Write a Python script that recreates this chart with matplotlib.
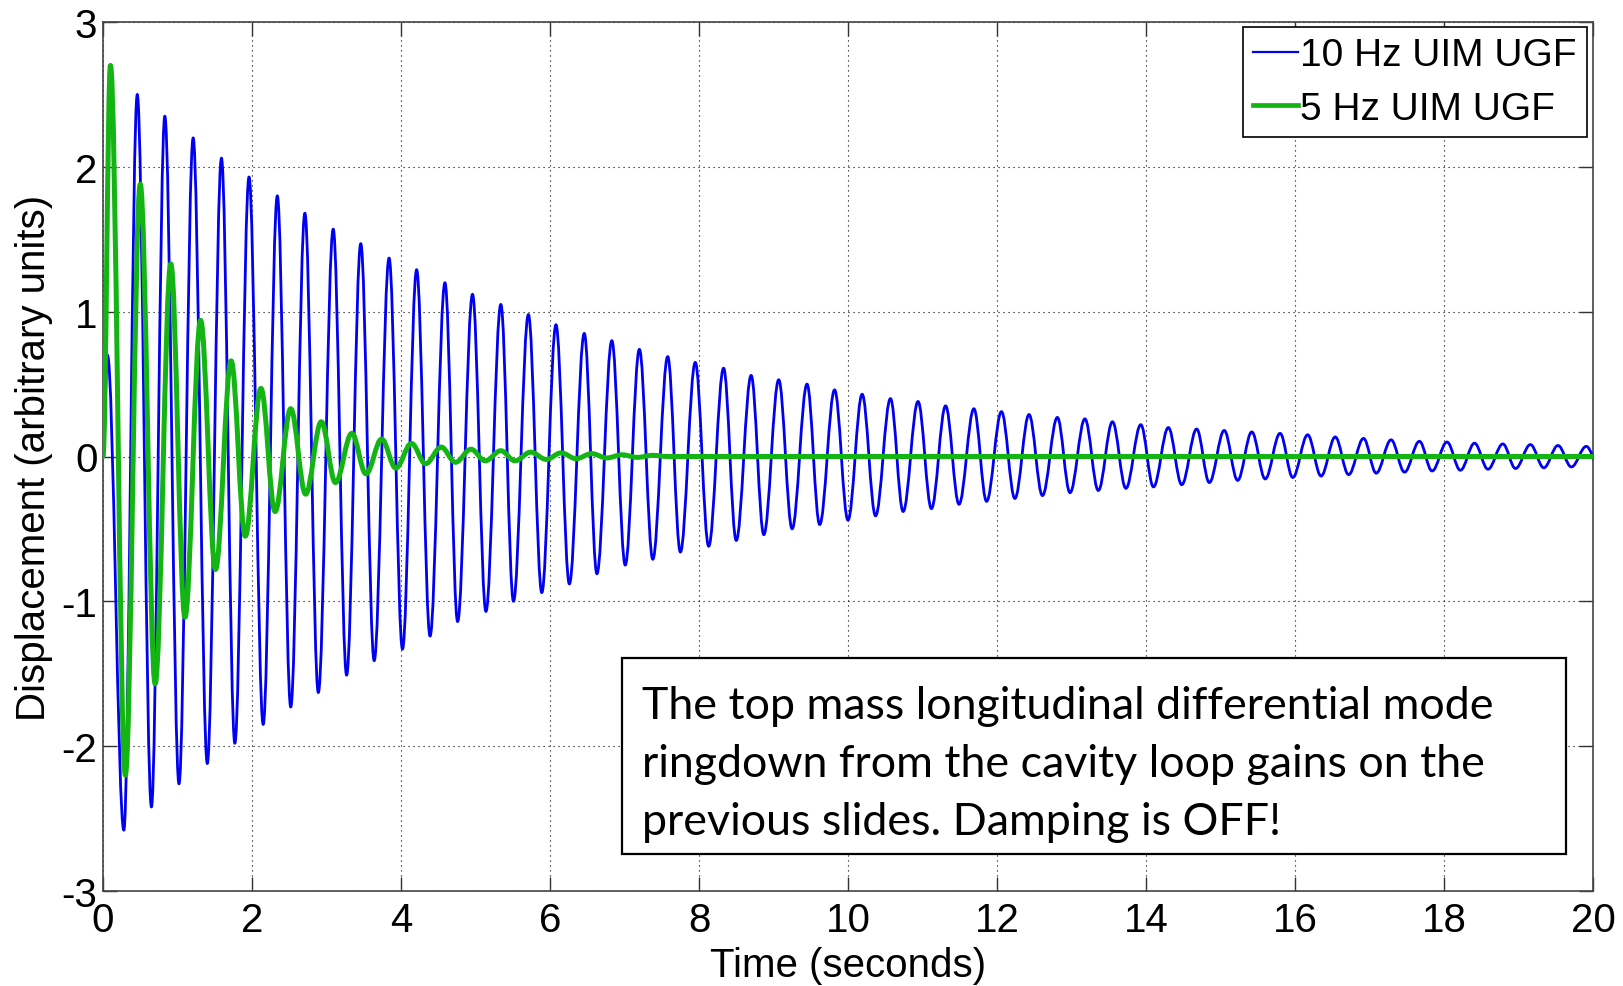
import matplotlib
matplotlib.use("Agg")
import matplotlib.pyplot as plt
from matplotlib.path import Path
from matplotlib.patches import PathPatch, Rectangle
from matplotlib.lines import Line2D

# ---------------- data (extrema) ----------------
series_labels = ["10 Hz UIM UGF", "5 Hz UIM UGF"]

# 10 Hz UIM UGF (blue): start, peaks, troughs
blue_start_t = [0.0, 0.06]
blue_start_v = [0.0, 0.70]
blue_peak_t = [0.46, 0.83, 1.21, 1.59, 1.96, 2.34, 2.71, 3.09, 3.46, 3.84,
               4.21, 4.59, 4.96, 5.34, 5.71, 6.08, 6.46, 6.83, 7.20, 7.58,
               7.95, 8.33, 8.70, 9.07, 9.45, 9.82, 10.19, 10.57, 10.94, 11.31,
               11.69, 12.06, 12.43, 12.81, 13.18, 13.55, 13.93, 14.30, 14.68, 15.05,
               15.42, 15.80, 16.17, 16.54, 16.92, 17.29, 17.67, 18.04, 18.41, 18.79,
               19.16, 19.53, 19.91]
blue_peak_v = [2.50, 2.35, 2.20, 2.06, 1.93, 1.80, 1.68, 1.57, 1.47, 1.37,
               1.29, 1.20, 1.12, 1.05, 0.98, 0.91, 0.85, 0.80, 0.74, 0.69,
               0.65, 0.61, 0.56, 0.53, 0.50, 0.46, 0.43, 0.40, 0.38, 0.35,
               0.33, 0.31, 0.29, 0.27, 0.26, 0.24, 0.22, 0.20, 0.19, 0.18,
               0.17, 0.16, 0.15, 0.135, 0.125, 0.115, 0.105, 0.10, 0.092, 0.087,
               0.082, 0.076, 0.070]
blue_trough_t = [0.28, 0.65, 1.02, 1.40, 1.77, 2.15, 2.52, 2.89, 3.27, 3.64,
                 4.02, 4.39, 4.76, 5.14, 5.51, 5.89, 6.26, 6.63, 7.01, 7.38,
                 7.75, 8.13, 8.50, 8.87, 9.25, 9.62, 10.00, 10.37, 10.74, 11.12,
                 11.49, 11.86, 12.24, 12.61, 12.98, 13.36, 13.73, 14.10, 14.48, 14.85,
                 15.23, 15.60, 15.97, 16.35, 16.72, 17.09, 17.47, 17.84, 18.22, 18.59,
                 18.96, 19.34, 19.71, 20.08]
blue_trough_v = [-2.58, -2.42, -2.26, -2.12, -1.98, -1.85, -1.73, -1.63, -1.51, -1.41,
                 -1.33, -1.24, -1.14, -1.07, -1.00, -0.94, -0.88, -0.81, -0.75, -0.71,
                 -0.66, -0.62, -0.58, -0.54, -0.50, -0.47, -0.44, -0.41, -0.38, -0.36,
                 -0.33, -0.31, -0.29, -0.27, -0.25, -0.235, -0.22, -0.21, -0.195, -0.18,
                 -0.165, -0.155, -0.145, -0.135, -0.125, -0.115, -0.108, -0.10, -0.095, -0.088,
                 -0.083, -0.078, -0.072, -0.068]

# 5 Hz UIM UGF (green): successive extrema
green_t = [0.0, 0.10, 0.30, 0.50, 0.70, 0.91, 1.10, 1.31, 1.51, 1.72,
           1.91, 2.12, 2.31, 2.52, 2.72, 2.93, 3.12, 3.34, 3.53, 3.74,
           3.93, 4.14, 4.33, 4.54, 4.73, 4.94, 5.13, 5.34, 5.53, 5.74,
           5.95, 6.15, 6.35, 6.56, 6.76, 6.97, 7.17, 7.38, 7.58, 20.0]
green_v = [0.0, 2.70, -2.20, 1.88, -1.57, 1.33, -1.11, 0.94, -0.78, 0.66,
           -0.55, 0.47, -0.38, 0.33, -0.26, 0.24, -0.18, 0.16, -0.12, 0.12,
           -0.08, 0.09, -0.05, 0.065, -0.04, 0.05, -0.03, 0.04, -0.03, 0.03,
           -0.02, 0.025, -0.015, 0.02, -0.01, 0.012, -0.006, 0.008, 0.0, 0.0]

xticks = [0, 2, 4, 6, 8, 10, 12, 14, 16, 18, 20]
yticks = [-3, -2, -1, 0, 1, 2, 3]
xlabel = "Time (seconds)"
ylabel = "Displacement (arbitrary units)"
note_lines = ["The top mass longitudinal differential mode",
              "ringdown from the cavity loop gains on the",
              "previous slides. Damping is OFF!"]

# ---------------- styling ----------------
BLUE = "#0000f2"
GREEN = "#14b414"
plt.rcParams["font.family"] = ["Liberation Sans", "DejaVu Sans"]
plt.rcParams["axes.unicode_minus"] = False

W, H = 1623, 987
fig = plt.figure(figsize=(W / 100, H / 100), dpi=100)
ax = fig.add_axes([103 / W, 1 - 892 / H, (1593 - 103) / W, (892 - 23) / H])


def extrema_path(t, v, k=0.3642):
    """Smooth (half-cosine-like) Bezier path through successive extrema."""
    verts = [(t[0], v[0])]
    codes = [Path.MOVETO]
    for i in range(1, len(t)):
        dt = t[i] - t[i - 1]
        verts += [(t[i - 1] + k * dt, v[i - 1]), (t[i] - k * dt, v[i]), (t[i], v[i])]
        codes += [Path.CURVE4] * 3
    return Path(verts, codes)


blue_pts = sorted(list(zip(blue_start_t, blue_start_v)) +
                  list(zip(blue_peak_t, blue_peak_v)) +
                  list(zip(blue_trough_t, blue_trough_v)))
blue_t = [p[0] for p in blue_pts]
blue_v = [p[1] for p in blue_pts]

BLUE_LW, GREEN_LW = 2.0, 3.6
ax.add_patch(PathPatch(extrema_path(blue_t, blue_v), facecolor="none",
                       edgecolor=BLUE, lw=BLUE_LW, joinstyle="round", capstyle="round",
                       zorder=3))
ax.add_patch(PathPatch(extrema_path(green_t, green_v), facecolor="none",
                       edgecolor=GREEN, lw=GREEN_LW, joinstyle="round", capstyle="round",
                       zorder=4))

ax.set_xlim(0, 20)
ax.set_ylim(-3, 3)
ax.set_xticks(xticks)
ax.set_yticks(yticks)
ax.set_xticklabels([str(x) for x in xticks])
ax.set_yticklabels([str(y) for y in yticks])
ax.tick_params(direction="in", top=True, right=True, length=10, width=1.0,
               labelsize=29, colors="#333333", labelcolor="black")
ax.tick_params(axis="x", pad=7)
ax.tick_params(axis="y", pad=4)
for s in ax.spines.values():
    s.set_color("#444444")
    s.set_linewidth(1.2)
ax.grid(True, color="black", linestyle=(0, (1, 3.5)), linewidth=0.8)
ax.set_axisbelow(True)

ax.set_xlabel(xlabel, fontsize=29, va="center")
ax.xaxis.set_label_coords(0.5, (892 - 966) / (892 - 23))
ax.set_ylabel(ylabel, fontsize=29, va="center")
ax.yaxis.set_label_coords((34 - 103) / (1593 - 103), 0.5)

handles = [Line2D([], [], color=BLUE, lw=1.6), Line2D([], [], color=GREEN, lw=3.4)]
leg = ax.legend(handles, series_labels, loc="upper right",
                bbox_to_anchor=(1587 / W, 1 - 28 / H), bbox_transform=fig.transFigure,
                fontsize=28, frameon=True, fancybox=False, framealpha=1,
                edgecolor="black", handlelength=1.15, handletextpad=0.05,
                borderpad=0.27, labelspacing=0.44, borderaxespad=0)
leg.get_frame().set_linewidth(1.2)

# annotation box
fig.add_artist(Rectangle((622 / W, 1 - 855 / H), (1566 - 622) / W, (855 - 659) / H,
                         transform=fig.transFigure, facecolor="white",
                         edgecolor="black", lw=1.6, zorder=10))
baselines = [719, 777, 835]
texts = []
for line, b in zip(note_lines, baselines):
    texts.append(fig.text(642 / W, 1 - b / H, line, fontsize=26, family=["Lato", "DejaVu Sans"],
                          va="baseline", ha="left", zorder=11))
# fit the note width to the reference (first line ~851 px wide)
fig.canvas.draw()
r = fig.canvas.get_renderer()
w0 = texts[0].get_window_extent(r).width
for t in texts:
    t.set_fontsize(26 * 851 / w0)

fig.savefig("out.png", dpi=100)
